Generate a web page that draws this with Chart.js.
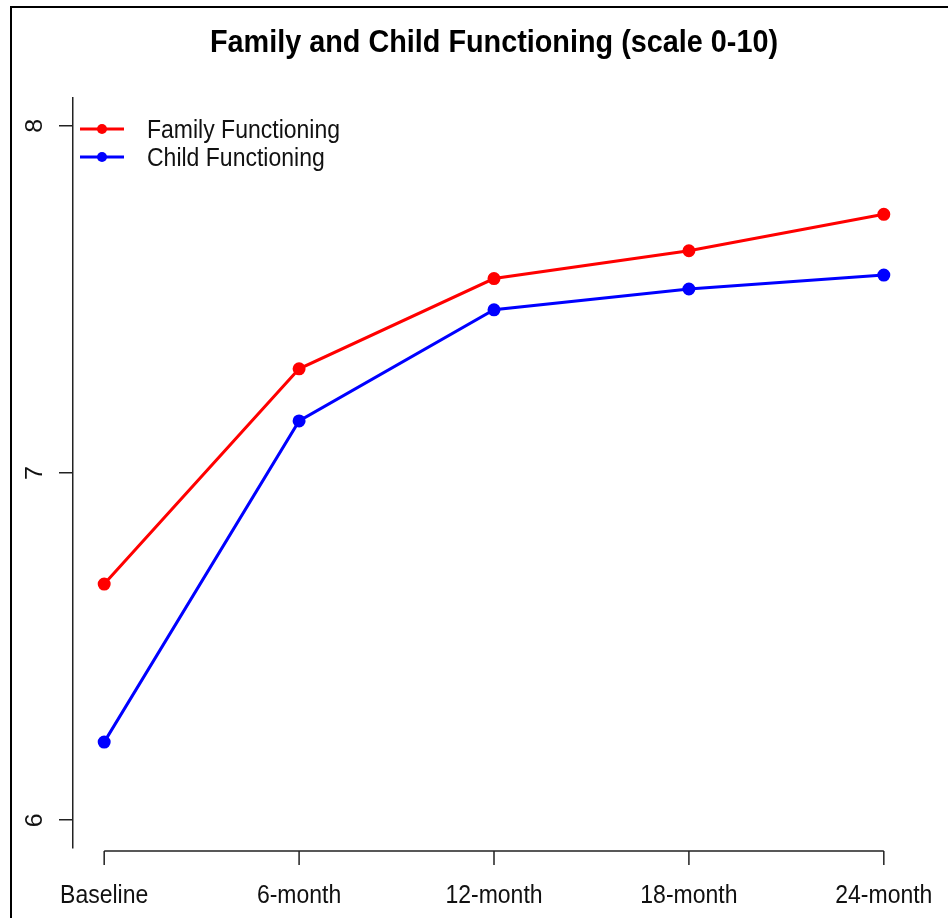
<!DOCTYPE html>
<html>
<head>
<meta charset="utf-8">
<script src="https://cdn.jsdelivr.net/npm/chart.js@4/dist/chart.umd.min.js"></script>
<style>
  body { margin: 0; background: #fff; }
  #wrap { width: 948px; height: 918px; }
</style>
</head>
<body>
<div id="wrap"><canvas id="lineChart" width="948" height="918"></canvas></div>
<script>
// ==========================
// DATA
// ==========================
const categories = ["Baseline", "6-month", "12-month", "18-month", "24-month"];
const familyValues = [6.68, 7.30, 7.56, 7.64, 7.745];
const childValues = [6.225, 7.15, 7.47, 7.53, 7.57];
const yTicks = [6, 7, 8];
const seriesNames = ["Family Functioning", "Child Functioning"];
const seriesColors = ["#ff0000", "#0000ff"];

const FONT = "'Liberation Sans', Arial, sans-serif";

// text a little narrower than wide, like the reference
function squeezeText(ctx, text, x, y, sx) {
  ctx.save();
  ctx.translate(x, y);
  ctx.scale(sx, 1);
  ctx.fillText(text, 0, 0);
  ctx.restore();
}

// ==========================
// PLUGIN: frame, title, axes extras, legend
// ==========================
const rDecor = {
  id: "rDecor",
  afterDraw(chart) {
    const ctx = chart.ctx;
    const area = chart.chartArea;
    const xs = chart.scales.x;
    const ys = chart.scales.y;
    ctx.save();

    // outer frame
    ctx.strokeStyle = "#000";
    ctx.lineWidth = 2;
    ctx.strokeRect(11, 7, 980, 960);

    // title
    ctx.fillStyle = "#000";
    ctx.font = "bold 32px " + FONT;
    ctx.textAlign = "center";
    ctx.textBaseline = "alphabetic";
    squeezeText(ctx, "Family and Child Functioning (scale 0-10)", (area.left + area.right) / 2, 52, 0.9);

    // x axis line + ticks (only between first and last tick, like R)
    const x0 = xs.getPixelForValue(0);
    const x1 = xs.getPixelForValue(categories.length - 1);
    const yAxis = area.bottom + 3;
    ctx.strokeStyle = "#222";
    ctx.lineWidth = 1.5;
    ctx.beginPath();
    ctx.moveTo(x0, yAxis);
    ctx.lineTo(x1, yAxis);
    categories.forEach((c, i) => {
      const px = xs.getPixelForValue(i);
      ctx.moveTo(px, yAxis);
      ctx.lineTo(px, yAxis + 14);
    });
    ctx.stroke();

    // x tick labels
    ctx.fillStyle = "#111";
    ctx.font = "25px " + FONT;
    ctx.textAlign = "center";
    categories.forEach((c, i) => {
      squeezeText(ctx, c, xs.getPixelForValue(i), 903, 0.92);
    });

    // y tick labels rotated
    yTicks.forEach((v) => {
      const py = ys.getPixelForValue(v);
      ctx.save();
      ctx.translate(42, py);
      ctx.rotate(-Math.PI / 2);
      ctx.scale(1, 0.92);
      ctx.textAlign = "center";
      ctx.fillText(String(v), 0, 0);
      ctx.restore();
    });

    // legend
    const legY = [129, 157];
    seriesNames.forEach((name, i) => {
      ctx.strokeStyle = seriesColors[i];
      ctx.lineWidth = 3;
      ctx.beginPath();
      ctx.moveTo(80, legY[i]);
      ctx.lineTo(124, legY[i]);
      ctx.stroke();
      ctx.fillStyle = seriesColors[i];
      ctx.beginPath();
      ctx.arc(102, legY[i], 5, 0, Math.PI * 2);
      ctx.fill();
      ctx.fillStyle = "#111";
      ctx.textAlign = "left";
      squeezeText(ctx, name, 147, legY[i] + 9, 0.92);
    });

    ctx.restore();
  },
};

// ==========================
// CHART
// ==========================
const toPoints = (arr) => arr.map((v, i) => ({ x: i, y: v }));

new Chart(document.getElementById("lineChart"), {
  type: "line",
  data: {
    datasets: [
      {
        label: seriesNames[0],
        data: toPoints(familyValues),
        borderColor: seriesColors[0],
        backgroundColor: seriesColors[0],
        borderWidth: 3,
        pointRadius: 5,
        pointHoverRadius: 5,
        tension: 0,
      },
      {
        label: seriesNames[1],
        data: toPoints(childValues),
        borderColor: seriesColors[1],
        backgroundColor: seriesColors[1],
        borderWidth: 3,
        pointRadius: 5,
        pointHoverRadius: 5,
        tension: 0,
      },
    ],
  },
  options: {
    responsive: false,
    animation: false,
    layout: { padding: { left: 73, right: 33, top: 98, bottom: 70 } },
    plugins: {
      legend: { display: false },
      tooltip: { enabled: false },
      title: { display: false },
    },
    scales: {
      x: {
        type: "linear",
        min: -0.16,
        max: categories.length - 1 + 0.16,
        afterFit: (s) => { s.height = 0; },
        afterBuildTicks: (s) => { s.ticks = categories.map((c, i) => ({ value: i })); },
        grid: { display: false },
        border: { display: false },
        ticks: { display: false },
      },
      y: {
        min: 5.92,
        max: 8.08,
        afterFit: (s) => { s.width = 0; },
        afterBuildTicks: (s) => { s.ticks = yTicks.map((v) => ({ value: v })); },
        grid: { drawOnChartArea: false, drawTicks: true, tickLength: 14, color: "#222", lineWidth: 1.5 },
        border: { display: true, color: "#222", width: 1.5 },
        ticks: { display: false },
      },
    },
  },
  plugins: [rDecor],
});
</script>
</body>
</html>
